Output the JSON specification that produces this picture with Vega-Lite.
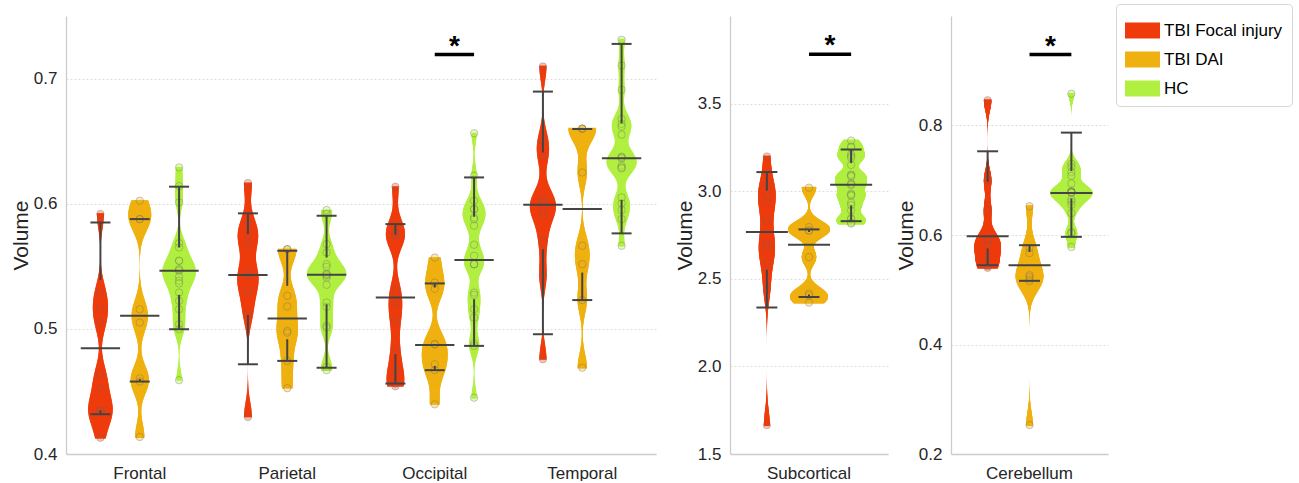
{
"$schema": "https://vega.github.io/schema/vega-lite/v6.json",
"background": "white",
"padding": {"left": 10, "top": 3, "right": 0, "bottom": 0},
"datasets": {
"pts": [
{"r":"Frontal","g":"TBI Focal injury","v":0.5918},{"r":"Frontal","g":"TBI Focal injury","v":0.529},{"r":"Frontal","g":"TBI Focal injury","v":0.517},{"r":"Frontal","g":"TBI Focal injury","v":0.505},{"r":"Frontal","g":"TBI Focal injury","v":0.4637},{"r":"Frontal","g":"TBI Focal injury","v":0.453},{"r":"Frontal","g":"TBI Focal injury","v":0.4344},{"r":"Frontal","g":"TBI Focal injury","v":0.4344},{"r":"Frontal","g":"TBI Focal injury","v":0.4344},{"r":"Frontal","g":"TBI Focal injury","v":0.413},
{"r":"Frontal","g":"TBI DAI","v":0.6024},{"r":"Frontal","g":"TBI DAI","v":0.5877},{"r":"Frontal","g":"TBI DAI","v":0.5877},{"r":"Frontal","g":"TBI DAI","v":0.5157},{"r":"Frontal","g":"TBI DAI","v":0.505},{"r":"Frontal","g":"TBI DAI","v":0.4605},{"r":"Frontal","g":"TBI DAI","v":0.458},{"r":"Frontal","g":"TBI DAI","v":0.4136},
{"r":"Frontal","g":"HC","v":0.629},{"r":"Frontal","g":"HC","v":0.614},{"r":"Frontal","g":"HC","v":0.601},{"r":"Frontal","g":"HC","v":0.5685},{"r":"Frontal","g":"HC","v":0.565},{"r":"Frontal","g":"HC","v":0.5544},{"r":"Frontal","g":"HC","v":0.5544},{"r":"Frontal","g":"HC","v":0.547},{"r":"Frontal","g":"HC","v":0.5464},{"r":"Frontal","g":"HC","v":0.5477},{"r":"Frontal","g":"HC","v":0.5416},{"r":"Frontal","g":"HC","v":0.5384},{"r":"Frontal","g":"HC","v":0.5363},{"r":"Frontal","g":"HC","v":0.529},{"r":"Frontal","g":"HC","v":0.5224},{"r":"Frontal","g":"HC","v":0.5157},{"r":"Frontal","g":"HC","v":0.5037},{"r":"Frontal","g":"HC","v":0.4997},{"r":"Frontal","g":"HC","v":0.459},
{"r":"Parietal","g":"TBI Focal injury","v":0.6166},{"r":"Parietal","g":"TBI Focal injury","v":0.5837},{"r":"Parietal","g":"TBI Focal injury","v":0.5744},{"r":"Parietal","g":"TBI Focal injury","v":0.568},{"r":"Parietal","g":"TBI Focal injury","v":0.5437},{"r":"Parietal","g":"TBI Focal injury","v":0.5424},{"r":"Parietal","g":"TBI Focal injury","v":0.53},{"r":"Parietal","g":"TBI Focal injury","v":0.5123},{"r":"Parietal","g":"TBI Focal injury","v":0.4296},
{"r":"Parietal","g":"TBI DAI","v":0.5637},{"r":"Parietal","g":"TBI DAI","v":0.5637},{"r":"Parietal","g":"TBI DAI","v":0.5264},{"r":"Parietal","g":"TBI DAI","v":0.5179},{"r":"Parietal","g":"TBI DAI","v":0.4984},{"r":"Parietal","g":"TBI DAI","v":0.497},{"r":"Parietal","g":"TBI DAI","v":0.4744},{"r":"Parietal","g":"TBI DAI","v":0.4526},
{"r":"Parietal","g":"HC","v":0.595},{"r":"Parietal","g":"HC","v":0.592},{"r":"Parietal","g":"HC","v":0.5677},{"r":"Parietal","g":"HC","v":0.561},{"r":"Parietal","g":"HC","v":0.5517},{"r":"Parietal","g":"HC","v":0.5496},{"r":"Parietal","g":"HC","v":0.5437},{"r":"Parietal","g":"HC","v":0.5424},{"r":"Parietal","g":"HC","v":0.541},{"r":"Parietal","g":"HC","v":0.543},{"r":"Parietal","g":"HC","v":0.544},{"r":"Parietal","g":"HC","v":0.5352},{"r":"Parietal","g":"HC","v":0.521},{"r":"Parietal","g":"HC","v":0.5176},{"r":"Parietal","g":"HC","v":0.5024},{"r":"Parietal","g":"HC","v":0.501},{"r":"Parietal","g":"HC","v":0.4696},{"r":"Parietal","g":"HC","v":0.467},
{"r":"Occipital","g":"TBI Focal injury","v":0.6136},{"r":"Occipital","g":"TBI Focal injury","v":0.577},{"r":"Occipital","g":"TBI Focal injury","v":0.5757},{"r":"Occipital","g":"TBI Focal injury","v":0.5744},{"r":"Occipital","g":"TBI Focal injury","v":0.531},{"r":"Occipital","g":"TBI Focal injury","v":0.5197},{"r":"Occipital","g":"TBI Focal injury","v":0.5064},{"r":"Occipital","g":"TBI Focal injury","v":0.4837},{"r":"Occipital","g":"TBI Focal injury","v":0.467},{"r":"Occipital","g":"TBI Focal injury","v":0.4563},{"r":"Occipital","g":"TBI Focal injury","v":0.4541},
{"r":"Occipital","g":"TBI DAI","v":0.557},{"r":"Occipital","g":"TBI DAI","v":0.537},{"r":"Occipital","g":"TBI DAI","v":0.532},{"r":"Occipital","g":"TBI DAI","v":0.4877},{"r":"Occipital","g":"TBI DAI","v":0.4877},{"r":"Occipital","g":"TBI DAI","v":0.4717},{"r":"Occipital","g":"TBI DAI","v":0.467},{"r":"Occipital","g":"TBI DAI","v":0.4397},
{"r":"Occipital","g":"HC","v":0.6563},{"r":"Occipital","g":"HC","v":0.6224},{"r":"Occipital","g":"HC","v":0.6024},{"r":"Occipital","g":"HC","v":0.5957},{"r":"Occipital","g":"HC","v":0.5957},{"r":"Occipital","g":"HC","v":0.589},{"r":"Occipital","g":"HC","v":0.5877},{"r":"Occipital","g":"HC","v":0.5824},{"r":"Occipital","g":"HC","v":0.5672},{"r":"Occipital","g":"HC","v":0.5584},{"r":"Occipital","g":"HC","v":0.5517},{"r":"Occipital","g":"HC","v":0.5517},{"r":"Occipital","g":"HC","v":0.5517},{"r":"Occipital","g":"HC","v":0.529},{"r":"Occipital","g":"HC","v":0.5272},{"r":"Occipital","g":"HC","v":0.5157},{"r":"Occipital","g":"HC","v":0.509},{"r":"Occipital","g":"HC","v":0.4883},{"r":"Occipital","g":"HC","v":0.4864},{"r":"Occipital","g":"HC","v":0.445},
{"r":"Temporal","g":"TBI Focal injury","v":0.7096},{"r":"Temporal","g":"TBI Focal injury","v":0.65},{"r":"Temporal","g":"TBI Focal injury","v":0.638},{"r":"Temporal","g":"TBI Focal injury","v":0.6037},{"r":"Temporal","g":"TBI Focal injury","v":0.601},{"r":"Temporal","g":"TBI Focal injury","v":0.597},{"r":"Temporal","g":"TBI Focal injury","v":0.5904},{"r":"Temporal","g":"TBI Focal injury","v":0.5704},{"r":"Temporal","g":"TBI Focal injury","v":0.5424},{"r":"Temporal","g":"TBI Focal injury","v":0.4757},
{"r":"Temporal","g":"TBI DAI","v":0.66},{"r":"Temporal","g":"TBI DAI","v":0.66},{"r":"Temporal","g":"TBI DAI","v":0.66},{"r":"Temporal","g":"TBI DAI","v":0.625},{"r":"Temporal","g":"TBI DAI","v":0.5664},{"r":"Temporal","g":"TBI DAI","v":0.5517},{"r":"Temporal","g":"TBI DAI","v":0.523},{"r":"Temporal","g":"TBI DAI","v":0.469},
{"r":"Temporal","g":"HC","v":0.731},{"r":"Temporal","g":"HC","v":0.7104},{"r":"Temporal","g":"HC","v":0.691},{"r":"Temporal","g":"HC","v":0.6677},{"r":"Temporal","g":"HC","v":0.6637},{"r":"Temporal","g":"HC","v":0.6616},{"r":"Temporal","g":"HC","v":0.6552},{"r":"Temporal","g":"HC","v":0.6376},{"r":"Temporal","g":"HC","v":0.637},{"r":"Temporal","g":"HC","v":0.6363},{"r":"Temporal","g":"HC","v":0.6304},{"r":"Temporal","g":"HC","v":0.629},{"r":"Temporal","g":"HC","v":0.6283},{"r":"Temporal","g":"HC","v":0.605},{"r":"Temporal","g":"HC","v":0.6003},{"r":"Temporal","g":"HC","v":0.595},{"r":"Temporal","g":"HC","v":0.5877},{"r":"Temporal","g":"HC","v":0.5664},
{"r":"Subcortical","g":"TBI Focal injury","v":3.198},{"r":"Subcortical","g":"TBI Focal injury","v":3.033},{"r":"Subcortical","g":"TBI Focal injury","v":2.985},{"r":"Subcortical","g":"TBI Focal injury","v":2.942},{"r":"Subcortical","g":"TBI Focal injury","v":2.833},{"r":"Subcortical","g":"TBI Focal injury","v":2.7},{"r":"Subcortical","g":"TBI Focal injury","v":2.681},{"r":"Subcortical","g":"TBI Focal injury","v":2.59},{"r":"Subcortical","g":"TBI Focal injury","v":2.44},{"r":"Subcortical","g":"TBI Focal injury","v":1.665},
{"r":"Subcortical","g":"TBI DAI","v":3.02},{"r":"Subcortical","g":"TBI DAI","v":2.795},{"r":"Subcortical","g":"TBI DAI","v":2.776},{"r":"Subcortical","g":"TBI DAI","v":2.776},{"r":"Subcortical","g":"TBI DAI","v":2.624},{"r":"Subcortical","g":"TBI DAI","v":2.416},{"r":"Subcortical","g":"TBI DAI","v":2.406},{"r":"Subcortical","g":"TBI DAI","v":2.364},
{"r":"Subcortical","g":"HC","v":3.289},{"r":"Subcortical","g":"HC","v":3.255},{"r":"Subcortical","g":"HC","v":3.25},{"r":"Subcortical","g":"HC","v":3.21},{"r":"Subcortical","g":"HC","v":3.2},{"r":"Subcortical","g":"HC","v":3.19},{"r":"Subcortical","g":"HC","v":3.15},{"r":"Subcortical","g":"HC","v":3.095},{"r":"Subcortical","g":"HC","v":3.09},{"r":"Subcortical","g":"HC","v":3.085},{"r":"Subcortical","g":"HC","v":3.045},{"r":"Subcortical","g":"HC","v":3.04},{"r":"Subcortical","g":"HC","v":3.035},{"r":"Subcortical","g":"HC","v":2.985},{"r":"Subcortical","g":"HC","v":2.98},{"r":"Subcortical","g":"HC","v":2.975},{"r":"Subcortical","g":"HC","v":2.935},{"r":"Subcortical","g":"HC","v":2.92},{"r":"Subcortical","g":"HC","v":2.89},{"r":"Subcortical","g":"HC","v":2.845},{"r":"Subcortical","g":"HC","v":2.84},{"r":"Subcortical","g":"HC","v":2.82},{"r":"Subcortical","g":"HC","v":2.815},
{"r":"Cerebellum","g":"TBI Focal injury","v":0.846},{"r":"Cerebellum","g":"TBI Focal injury","v":0.7},{"r":"Cerebellum","g":"TBI Focal injury","v":0.645},{"r":"Cerebellum","g":"TBI Focal injury","v":0.59},{"r":"Cerebellum","g":"TBI Focal injury","v":0.59},{"r":"Cerebellum","g":"TBI Focal injury","v":0.581},{"r":"Cerebellum","g":"TBI Focal injury","v":0.56},{"r":"Cerebellum","g":"TBI Focal injury","v":0.543},{"r":"Cerebellum","g":"TBI Focal injury","v":0.54},
{"r":"Cerebellum","g":"TBI DAI","v":0.6526},{"r":"Cerebellum","g":"TBI DAI","v":0.576},{"r":"Cerebellum","g":"TBI DAI","v":0.567},{"r":"Cerebellum","g":"TBI DAI","v":0.5267},{"r":"Cerebellum","g":"TBI DAI","v":0.5236},{"r":"Cerebellum","g":"TBI DAI","v":0.519},{"r":"Cerebellum","g":"TBI DAI","v":0.5157},{"r":"Cerebellum","g":"TBI DAI","v":0.2529},
{"r":"Cerebellum","g":"HC","v":0.858},{"r":"Cerebellum","g":"HC","v":0.73},{"r":"Cerebellum","g":"HC","v":0.724},{"r":"Cerebellum","g":"HC","v":0.715},{"r":"Cerebellum","g":"HC","v":0.708},{"r":"Cerebellum","g":"HC","v":0.694},{"r":"Cerebellum","g":"HC","v":0.68},{"r":"Cerebellum","g":"HC","v":0.679},{"r":"Cerebellum","g":"HC","v":0.679},{"r":"Cerebellum","g":"HC","v":0.678},{"r":"Cerebellum","g":"HC","v":0.678},{"r":"Cerebellum","g":"HC","v":0.677},{"r":"Cerebellum","g":"HC","v":0.665},{"r":"Cerebellum","g":"HC","v":0.661},{"r":"Cerebellum","g":"HC","v":0.655},{"r":"Cerebellum","g":"HC","v":0.64},{"r":"Cerebellum","g":"HC","v":0.605},{"r":"Cerebellum","g":"HC","v":0.603},{"r":"Cerebellum","g":"HC","v":0.578}
],
"stats": [
{"r":"Frontal","g":"TBI Focal injury","mid":0.4845,"hi":0.585,"q3":0.539,"q1":0.435,"lo":0.4318},
{"r":"Frontal","g":"TBI DAI","mid":0.5104,"hi":0.5877,"q3":0.5877,"q1":0.46,"lo":0.4579},
{"r":"Frontal","g":"HC","mid":0.5464,"hi":0.6136,"q3":0.565,"q1":0.5272,"lo":0.4997},
{"r":"Parietal","g":"TBI Focal injury","mid":0.543,"hi":0.5923,"q3":0.5757,"q1":0.5112,"lo":0.4717},
{"r":"Parietal","g":"TBI DAI","mid":0.5083,"hi":0.5624,"q3":0.5344,"q1":0.4917,"lo":0.4744},
{"r":"Parietal","g":"HC","mid":0.5432,"hi":0.5904,"q3":0.557,"q1":0.5197,"lo":0.469},
{"r":"Occipital","g":"TBI Focal injury","mid":0.525,"hi":0.5837,"q3":0.5752,"q1":0.4797,"lo":0.4563},
{"r":"Occipital","g":"TBI DAI","mid":0.4872,"hi":0.5363,"q3":0.533,"q1":0.4704,"lo":0.467},
{"r":"Occipital","g":"HC","mid":0.555,"hi":0.621,"q3":0.5896,"q1":0.5237,"lo":0.4864},
{"r":"Temporal","g":"TBI Focal injury","mid":0.5992,"hi":0.6896,"q3":0.641,"q1":0.5637,"lo":0.4957},
{"r":"Temporal","g":"TBI DAI","mid":0.5957,"hi":0.6597,"q3":0.6597,"q1":0.545,"lo":0.523},
{"r":"Temporal","g":"HC","mid":0.6363,"hi":0.7277,"q3":0.6642,"q1":0.603,"lo":0.5763},
{"r":"Subcortical","g":"TBI Focal injury","mid":2.767,"hi":3.109,"q3":3.004,"q1":2.552,"lo":2.336},
{"r":"Subcortical","g":"TBI DAI","mid":2.695,"hi":2.782,"q3":2.767,"q1":2.41,"lo":2.396},
{"r":"Subcortical","g":"HC","mid":3.037,"hi":3.238,"q3":3.16,"q1":2.919,"lo":2.829},
{"r":"Cerebellum","g":"TBI Focal injury","mid":0.5978,"hi":0.7529,"q3":0.697,"q1":0.5754,"lo":0.5449},
{"r":"Cerebellum","g":"TBI DAI","mid":0.5449,"hi":0.5814,"q3":0.5692,"q1":0.5163,"lo":0.5163},
{"r":"Cerebellum","g":"HC","mid":0.6768,"hi":0.787,"q3":0.717,"q1":0.6666,"lo":0.5966}
],
"sig": [
{"r":"Occipital","g":"TBI DAI"},{"r":"Occipital","g":"HC"},
{"r":"Subcortical","g":"TBI DAI"},{"r":"Subcortical","g":"HC"},
{"r":"Cerebellum","g":"TBI DAI"},{"r":"Cerebellum","g":"HC"}
]
},
"config": {
"font": "Liberation Sans",
"view": {"stroke": null},
"axis": {"labelFontSize": 17, "labelColor": "#262626", "titleFontSize": 21, "titleFontWeight": "normal", "titleColor": "#262626", "ticks": false, "domainColor": "#cccccc", "domainWidth": 1.3, "gridColor": "#dedede", "gridDash": [2, 2], "labelPadding": 9, "titlePadding": 2},
"axisX": {"grid": false, "labelAngle": 0, "labelPadding": 11},
"axisY": {"grid": true},
"tick": {"opacity": 1}
},
"spacing": 74,
"bounds": "flush",
"resolve": {"scale": {"size": "independent", "xOffset": "independent", "x": "independent", "y": "independent"}},
"hconcat": [
{
"width": 590, "height": 438,
"layer": [
{"data": {"name": "pts"}, "transform": [{"filter": {"field": "r", "oneOf": ["Frontal","Parietal","Occipital","Temporal"]}}, {"filter": {"field": "g", "equal": "TBI Focal injury"}}, {"joinaggregate": [{"op": "min", "field": "v", "as": "vmin"}, {"op": "max", "field": "v", "as": "vmax"}], "groupby": ["r","g"]}, {"density": "v", "groupby": ["r","g","vmin","vmax"], "bandwidth": 0.0115, "steps": 400, "as": ["v","density"]}, {"filter": "datum.v >= datum.vmin && datum.v <= datum.vmax"}],
 "mark": {"type": "tick", "thickness": 2, "opacity": 1},
 "encoding": {
  "x": {"field": "r", "type": "nominal", "title": null, "scale": {"domain": ["Frontal","Parietal","Occipital","Temporal"], "paddingInner": 0, "paddingOuter": 0}},
  "xOffset": {"field": "g", "type": "nominal", "scale": {"domain": ["TBI Focal injury","TBI DAI","HC"], "paddingInner": 0, "paddingOuter": 0.375}},
  "y": {"field": "v", "type": "quantitative", "title": "Volume", "scale": {"domain": [0.4, 0.75], "nice": false, "zero": false}, "axis": {"values": [0.4, 0.5, 0.6, 0.7], "format": ".1f"}},
  "size": {"field": "density", "type": "quantitative", "scale": {"range": [0, 39.3]}, "legend": null},
  "color": {"field": "g", "type": "nominal", "scale": {"domain": ["TBI Focal injury","TBI DAI","HC"], "range": ["#ef3b0c","#efb110","#b1ef40"]},
   "legend": {"orient": "none", "legendX": 1050, "legendY": -12, "title": null, "symbolType": "M-1,-0.457L1,-0.457L1,0.457L-1,0.457Z", "symbolSize": 1225, "symbolStrokeWidth": 0, "symbolOpacity": 1, "labelFontSize": 17, "labelColor": "black", "labelOffset": 4, "strokeColor": "#d6d6d6", "fillColor": "white", "cornerRadius": 4, "padding": 9, "rowPadding": 3, "encode": {"symbols": {"update": {"fill": {"signal": "datum.value === 'TBI Focal injury' ? '#ff2200' : datum.value === 'TBI DAI' ? '#ffb000' : '#aaff44'"}}}}}}
 }},
{"data": {"name": "pts"}, "transform": [{"filter": {"field": "r", "oneOf": ["Frontal","Parietal","Occipital","Temporal"]}}, {"filter": {"field": "g", "equal": "TBI DAI"}}, {"joinaggregate": [{"op": "min", "field": "v", "as": "vmin"}, {"op": "max", "field": "v", "as": "vmax"}], "groupby": ["r","g"]}, {"density": "v", "groupby": ["r","g","vmin","vmax"], "bandwidth": 0.011, "steps": 400, "as": ["v","density"]}, {"filter": "datum.v >= datum.vmin && datum.v <= datum.vmax"}],
 "mark": {"type": "tick", "thickness": 2, "opacity": 1},
 "encoding": {
  "x": {"field": "r", "type": "nominal", "title": null},
  "xOffset": {"field": "g", "type": "nominal"},
  "y": {"field": "v", "type": "quantitative", "title": "Volume"},
  "size": {"field": "density", "type": "quantitative", "legend": null},
  "color": {"field": "g", "type": "nominal",
   "legend": {"orient": "none", "legendX": 1050, "legendY": -12, "title": null, "symbolType": "M-1,-0.457L1,-0.457L1,0.457L-1,0.457Z", "symbolSize": 1225, "symbolStrokeWidth": 0, "symbolOpacity": 1, "labelFontSize": 17, "labelColor": "black", "labelOffset": 4, "strokeColor": "#d6d6d6", "fillColor": "white", "cornerRadius": 4, "padding": 9, "rowPadding": 3, "encode": {"symbols": {"update": {"fill": {"signal": "datum.value === 'TBI Focal injury' ? '#ff2200' : datum.value === 'TBI DAI' ? '#ffb000' : '#aaff44'"}}}}}}
 }},
{"data": {"name": "pts"}, "transform": [{"filter": {"field": "r", "oneOf": ["Frontal","Parietal","Occipital","Temporal"]}}, {"filter": {"field": "g", "equal": "HC"}}, {"joinaggregate": [{"op": "min", "field": "v", "as": "vmin"}, {"op": "max", "field": "v", "as": "vmax"}], "groupby": ["r","g"]}, {"density": "v", "groupby": ["r","g","vmin","vmax"], "bandwidth": 0.008, "steps": 400, "as": ["v","density"]}, {"filter": "datum.v >= datum.vmin && datum.v <= datum.vmax"}],
 "mark": {"type": "tick", "thickness": 2, "opacity": 1},
 "encoding": {
  "x": {"field": "r", "type": "nominal", "title": null},
  "xOffset": {"field": "g", "type": "nominal"},
  "y": {"field": "v", "type": "quantitative", "title": "Volume"},
  "size": {"field": "density", "type": "quantitative", "legend": null},
  "color": {"field": "g", "type": "nominal",
   "legend": {"orient": "none", "legendX": 1050, "legendY": -12, "title": null, "symbolType": "M-1,-0.457L1,-0.457L1,0.457L-1,0.457Z", "symbolSize": 1225, "symbolStrokeWidth": 0, "symbolOpacity": 1, "labelFontSize": 17, "labelColor": "black", "labelOffset": 4, "strokeColor": "#d6d6d6", "fillColor": "white", "cornerRadius": 4, "padding": 9, "rowPadding": 3, "encode": {"symbols": {"update": {"fill": {"signal": "datum.value === 'TBI Focal injury' ? '#ff2200' : datum.value === 'TBI DAI' ? '#ffb000' : '#aaff44'"}}}}}}
 }},
{"data": {"name": "pts"}, "transform": [{"filter": {"field": "r", "oneOf": ["Frontal","Parietal","Occipital","Temporal"]}}],
 "mark": {"type": "circle", "size": 55, "fillOpacity": 0.3, "stroke": "#666666", "strokeOpacity": 0.35, "strokeWidth": 1, "opacity": 1},
 "encoding": {"x": {"field": "r", "type": "nominal", "title": null}, "xOffset": {"field": "g", "type": "nominal"}, "y": {"field": "v", "type": "quantitative", "title": "Volume"}, "color": {"field": "g", "type": "nominal", "legend": null}}},
{"data": {"name": "stats"}, "transform": [{"filter": {"field": "r", "oneOf": ["Frontal","Parietal","Occipital","Temporal"]}}],
 "mark": {"type": "rule", "color": "#444444", "strokeWidth": 2},
 "encoding": {"x": {"field": "r", "type": "nominal", "title": null}, "xOffset": {"field": "g", "type": "nominal"}, "y": {"field": "q3", "type": "quantitative", "title": "Volume"}, "y2": {"field": "hi"}}},
{"data": {"name": "stats"}, "transform": [{"filter": {"field": "r", "oneOf": ["Frontal","Parietal","Occipital","Temporal"]}}],
 "mark": {"type": "rule", "color": "#444444", "strokeWidth": 2},
 "encoding": {"x": {"field": "r", "type": "nominal", "title": null}, "xOffset": {"field": "g", "type": "nominal"}, "y": {"field": "lo", "type": "quantitative", "title": "Volume"}, "y2": {"field": "q1"}}},
{"data": {"name": "stats"}, "transform": [{"filter": {"field": "r", "oneOf": ["Frontal","Parietal","Occipital","Temporal"]}}],
 "mark": {"type": "tick", "color": "#444444", "thickness": 2, "opacity": 1},
 "encoding": {"x": {"field": "r", "type": "nominal", "title": null}, "xOffset": {"field": "g", "type": "nominal"}, "y": {"field": "hi", "type": "quantitative", "title": "Volume"}, "size": {"value": 20}}},
{"data": {"name": "stats"}, "transform": [{"filter": {"field": "r", "oneOf": ["Frontal","Parietal","Occipital","Temporal"]}}],
 "mark": {"type": "tick", "color": "#444444", "thickness": 2, "opacity": 1},
 "encoding": {"x": {"field": "r", "type": "nominal", "title": null}, "xOffset": {"field": "g", "type": "nominal"}, "y": {"field": "lo", "type": "quantitative", "title": "Volume"}, "size": {"value": 20}}},
{"data": {"name": "stats"}, "transform": [{"filter": {"field": "r", "oneOf": ["Frontal","Parietal","Occipital","Temporal"]}}],
 "mark": {"type": "tick", "color": "#444444", "thickness": 2, "opacity": 1},
 "encoding": {"x": {"field": "r", "type": "nominal", "title": null}, "xOffset": {"field": "g", "type": "nominal"}, "y": {"field": "mid", "type": "quantitative", "title": "Volume"}, "size": {"value": 39.3}}},
{"data": {"name": "sig"}, "transform": [{"filter": {"field": "r", "oneOf": ["Frontal","Parietal","Occipital","Temporal"]}}],
 "mark": {"type": "line", "color": "black", "strokeWidth": 3.5},
 "encoding": {"x": {"field": "r", "type": "nominal", "title": null}, "xOffset": {"field": "g", "type": "nominal"}, "y": {"datum": 0.7192, "type": "quantitative", "title": "Volume"}, "detail": {"field": "r"}}},
{"data": {"name": "sig"}, "transform": [{"filter": {"field": "r", "oneOf": ["Frontal","Parietal","Occipital","Temporal"]}}, {"filter": {"field": "g", "equal": "TBI DAI"}}],
 "mark": {"type": "text", "text": "*", "fontSize": 28, "fontWeight": "bold", "color": "black", "dx": 19.7, "dy": 0, "baseline": "alphabetic", "align": "center"},
 "encoding": {"x": {"field": "r", "type": "nominal", "title": null}, "xOffset": {"field": "g", "type": "nominal"}, "y": {"datum": 0.7192, "type": "quantitative", "title": "Volume"}}}
]
},
{
"spacing": 63,
"bounds": "flush",
"resolve": {"scale": {"size": "independent", "xOffset": "independent", "x": "independent", "y": "independent"}},
"hconcat": [
{
"width": 158, "height": 438,
"layer": [
{"data": {"name": "pts"}, "transform": [{"filter": {"field": "r", "equal": "Subcortical"}}, {"filter": {"field": "g", "equal": "TBI Focal injury"}}, {"joinaggregate": [{"op": "min", "field": "v", "as": "vmin"}, {"op": "max", "field": "v", "as": "vmax"}], "groupby": ["r","g"]}, {"density": "v", "groupby": ["r","g","vmin","vmax"], "bandwidth": 0.086, "steps": 400, "as": ["v","density"]}, {"filter": "datum.v >= datum.vmin && datum.v <= datum.vmax"}],
 "mark": {"type": "tick", "thickness": 2, "opacity": 1},
 "encoding": {
  "x": {"field": "r", "type": "nominal", "title": null, "scale": {"paddingInner": 0, "paddingOuter": 0}},
  "xOffset": {"field": "g", "type": "nominal", "scale": {"domain": ["TBI Focal injury","TBI DAI","HC"], "paddingInner": 0, "paddingOuter": 0.375}},
  "y": {"field": "v", "type": "quantitative", "title": "Volume", "scale": {"domain": [1.5, 4.0], "nice": false, "zero": false}, "axis": {"values": [1.5, 2.0, 2.5, 3.0, 3.5], "format": ".1f"}},
  "size": {"field": "density", "type": "quantitative", "scale": {"range": [0, 42]}, "legend": null},
  "color": {"field": "g", "type": "nominal", "legend": null}
 }},
{"data": {"name": "pts"}, "transform": [{"filter": {"field": "r", "equal": "Subcortical"}}, {"filter": {"field": "g", "equal": "TBI DAI"}}, {"joinaggregate": [{"op": "min", "field": "v", "as": "vmin"}, {"op": "max", "field": "v", "as": "vmax"}], "groupby": ["r","g"]}, {"density": "v", "groupby": ["r","g","vmin","vmax"], "bandwidth": 0.044, "steps": 400, "as": ["v","density"]}, {"filter": "datum.v >= datum.vmin && datum.v <= datum.vmax"}],
 "mark": {"type": "tick", "thickness": 2, "opacity": 1},
 "encoding": {"x": {"field": "r", "type": "nominal", "title": null}, "xOffset": {"field": "g", "type": "nominal"}, "y": {"field": "v", "type": "quantitative", "title": "Volume"}, "size": {"field": "density", "type": "quantitative", "legend": null}, "color": {"field": "g", "type": "nominal", "legend": null}}},
{"data": {"name": "pts"}, "transform": [{"filter": {"field": "r", "equal": "Subcortical"}}, {"filter": {"field": "g", "equal": "HC"}}, {"joinaggregate": [{"op": "min", "field": "v", "as": "vmin"}, {"op": "max", "field": "v", "as": "vmax"}], "groupby": ["r","g"]}, {"density": "v", "groupby": ["r","g","vmin","vmax"], "bandwidth": 0.028, "steps": 400, "as": ["v","density"]}, {"filter": "datum.v >= datum.vmin && datum.v <= datum.vmax"}],
 "mark": {"type": "tick", "thickness": 2, "opacity": 1},
 "encoding": {"x": {"field": "r", "type": "nominal", "title": null}, "xOffset": {"field": "g", "type": "nominal"}, "y": {"field": "v", "type": "quantitative", "title": "Volume"}, "size": {"field": "density", "type": "quantitative", "legend": null}, "color": {"field": "g", "type": "nominal", "legend": null}}},
{"data": {"name": "pts"}, "transform": [{"filter": {"field": "r", "equal": "Subcortical"}}],
 "mark": {"type": "circle", "size": 55, "fillOpacity": 0.3, "stroke": "#666666", "strokeOpacity": 0.35, "strokeWidth": 1, "opacity": 1},
 "encoding": {"x": {"field": "r", "type": "nominal", "title": null}, "xOffset": {"field": "g", "type": "nominal"}, "y": {"field": "v", "type": "quantitative", "title": "Volume"}, "color": {"field": "g", "type": "nominal", "legend": null}}},
{"data": {"name": "stats"}, "transform": [{"filter": {"field": "r", "equal": "Subcortical"}}],
 "mark": {"type": "rule", "color": "#444444", "strokeWidth": 2},
 "encoding": {"x": {"field": "r", "type": "nominal", "title": null}, "xOffset": {"field": "g", "type": "nominal"}, "y": {"field": "q3", "type": "quantitative", "title": "Volume"}, "y2": {"field": "hi"}}},
{"data": {"name": "stats"}, "transform": [{"filter": {"field": "r", "equal": "Subcortical"}}],
 "mark": {"type": "rule", "color": "#444444", "strokeWidth": 2},
 "encoding": {"x": {"field": "r", "type": "nominal", "title": null}, "xOffset": {"field": "g", "type": "nominal"}, "y": {"field": "lo", "type": "quantitative", "title": "Volume"}, "y2": {"field": "q1"}}},
{"data": {"name": "stats"}, "transform": [{"filter": {"field": "r", "equal": "Subcortical"}}],
 "mark": {"type": "tick", "color": "#444444", "thickness": 2, "opacity": 1},
 "encoding": {"x": {"field": "r", "type": "nominal", "title": null}, "xOffset": {"field": "g", "type": "nominal"}, "y": {"field": "hi", "type": "quantitative", "title": "Volume"}, "size": {"value": 21}}},
{"data": {"name": "stats"}, "transform": [{"filter": {"field": "r", "equal": "Subcortical"}}],
 "mark": {"type": "tick", "color": "#444444", "thickness": 2, "opacity": 1},
 "encoding": {"x": {"field": "r", "type": "nominal", "title": null}, "xOffset": {"field": "g", "type": "nominal"}, "y": {"field": "lo", "type": "quantitative", "title": "Volume"}, "size": {"value": 21}}},
{"data": {"name": "stats"}, "transform": [{"filter": {"field": "r", "equal": "Subcortical"}}],
 "mark": {"type": "tick", "color": "#444444", "thickness": 2, "opacity": 1},
 "encoding": {"x": {"field": "r", "type": "nominal", "title": null}, "xOffset": {"field": "g", "type": "nominal"}, "y": {"field": "mid", "type": "quantitative", "title": "Volume"}, "size": {"value": 42}}},
{"data": {"name": "sig"}, "transform": [{"filter": {"field": "r", "equal": "Subcortical"}}],
 "mark": {"type": "line", "color": "black", "strokeWidth": 3.5},
 "encoding": {"x": {"field": "r", "type": "nominal", "title": null}, "xOffset": {"field": "g", "type": "nominal"}, "y": {"datum": 3.781, "type": "quantitative", "title": "Volume"}, "detail": {"field": "r"}}},
{"data": {"name": "sig"}, "transform": [{"filter": {"field": "r", "equal": "Subcortical"}}, {"filter": {"field": "g", "equal": "TBI DAI"}}],
 "mark": {"type": "text", "text": "*", "fontSize": 28, "fontWeight": "bold", "color": "black", "dx": 21, "dy": 0, "baseline": "alphabetic", "align": "center"},
 "encoding": {"x": {"field": "r", "type": "nominal", "title": null}, "xOffset": {"field": "g", "type": "nominal"}, "y": {"datum": 3.781, "type": "quantitative", "title": "Volume"}}}
]
},
{
"width": 157, "height": 438,
"layer": [
{"data": {"name": "pts"}, "transform": [{"filter": {"field": "r", "equal": "Cerebellum"}}, {"filter": {"field": "g", "equal": "TBI Focal injury"}}, {"joinaggregate": [{"op": "min", "field": "v", "as": "vmin"}, {"op": "max", "field": "v", "as": "vmax"}], "groupby": ["r","g"]}, {"density": "v", "groupby": ["r","g","vmin","vmax"], "bandwidth": 0.019, "steps": 400, "as": ["v","density"]}, {"filter": "datum.v >= datum.vmin && datum.v <= datum.vmax"}],
 "mark": {"type": "tick", "thickness": 2, "opacity": 1},
 "encoding": {
  "x": {"field": "r", "type": "nominal", "title": null, "scale": {"paddingInner": 0, "paddingOuter": 0}},
  "xOffset": {"field": "g", "type": "nominal", "scale": {"domain": ["TBI Focal injury","TBI DAI","HC"], "paddingInner": 0, "paddingOuter": 0.375}},
  "y": {"field": "v", "type": "quantitative", "title": "Volume", "scale": {"domain": [0.2, 1.0], "nice": false, "zero": false}, "axis": {"values": [0.2, 0.4, 0.6, 0.8], "format": ".1f"}},
  "size": {"field": "density", "type": "quantitative", "scale": {"range": [0, 42]}, "legend": null},
  "color": {"field": "g", "type": "nominal", "legend": null}
 }},
{"data": {"name": "pts"}, "transform": [{"filter": {"field": "r", "equal": "Cerebellum"}}, {"filter": {"field": "g", "equal": "TBI DAI"}}, {"joinaggregate": [{"op": "min", "field": "v", "as": "vmin"}, {"op": "max", "field": "v", "as": "vmax"}], "groupby": ["r","g"]}, {"density": "v", "groupby": ["r","g","vmin","vmax"], "bandwidth": 0.024, "steps": 400, "as": ["v","density"]}, {"filter": "datum.v >= datum.vmin && datum.v <= datum.vmax"}],
 "mark": {"type": "tick", "thickness": 2, "opacity": 1},
 "encoding": {"x": {"field": "r", "type": "nominal", "title": null}, "xOffset": {"field": "g", "type": "nominal"}, "y": {"field": "v", "type": "quantitative", "title": "Volume"}, "size": {"field": "density", "type": "quantitative", "legend": null}, "color": {"field": "g", "type": "nominal", "legend": null}}},
{"data": {"name": "pts"}, "transform": [{"filter": {"field": "r", "equal": "Cerebellum"}}, {"filter": {"field": "g", "equal": "HC"}}, {"joinaggregate": [{"op": "min", "field": "v", "as": "vmin"}, {"op": "max", "field": "v", "as": "vmax"}], "groupby": ["r","g"]}, {"density": "v", "groupby": ["r","g","vmin","vmax"], "bandwidth": 0.012, "steps": 400, "as": ["v","density"]}, {"filter": "datum.v >= datum.vmin && datum.v <= datum.vmax"}],
 "mark": {"type": "tick", "thickness": 2, "opacity": 1},
 "encoding": {"x": {"field": "r", "type": "nominal", "title": null}, "xOffset": {"field": "g", "type": "nominal"}, "y": {"field": "v", "type": "quantitative", "title": "Volume"}, "size": {"field": "density", "type": "quantitative", "legend": null}, "color": {"field": "g", "type": "nominal", "legend": null}}},
{"data": {"name": "pts"}, "transform": [{"filter": {"field": "r", "equal": "Cerebellum"}}],
 "mark": {"type": "circle", "size": 55, "fillOpacity": 0.3, "stroke": "#666666", "strokeOpacity": 0.35, "strokeWidth": 1, "opacity": 1},
 "encoding": {"x": {"field": "r", "type": "nominal", "title": null}, "xOffset": {"field": "g", "type": "nominal"}, "y": {"field": "v", "type": "quantitative", "title": "Volume"}, "color": {"field": "g", "type": "nominal", "legend": null}}},
{"data": {"name": "stats"}, "transform": [{"filter": {"field": "r", "equal": "Cerebellum"}}],
 "mark": {"type": "rule", "color": "#444444", "strokeWidth": 2},
 "encoding": {"x": {"field": "r", "type": "nominal", "title": null}, "xOffset": {"field": "g", "type": "nominal"}, "y": {"field": "q3", "type": "quantitative", "title": "Volume"}, "y2": {"field": "hi"}}},
{"data": {"name": "stats"}, "transform": [{"filter": {"field": "r", "equal": "Cerebellum"}}],
 "mark": {"type": "rule", "color": "#444444", "strokeWidth": 2},
 "encoding": {"x": {"field": "r", "type": "nominal", "title": null}, "xOffset": {"field": "g", "type": "nominal"}, "y": {"field": "lo", "type": "quantitative", "title": "Volume"}, "y2": {"field": "q1"}}},
{"data": {"name": "stats"}, "transform": [{"filter": {"field": "r", "equal": "Cerebellum"}}],
 "mark": {"type": "tick", "color": "#444444", "thickness": 2, "opacity": 1},
 "encoding": {"x": {"field": "r", "type": "nominal", "title": null}, "xOffset": {"field": "g", "type": "nominal"}, "y": {"field": "hi", "type": "quantitative", "title": "Volume"}, "size": {"value": 21}}},
{"data": {"name": "stats"}, "transform": [{"filter": {"field": "r", "equal": "Cerebellum"}}],
 "mark": {"type": "tick", "color": "#444444", "thickness": 2, "opacity": 1},
 "encoding": {"x": {"field": "r", "type": "nominal", "title": null}, "xOffset": {"field": "g", "type": "nominal"}, "y": {"field": "lo", "type": "quantitative", "title": "Volume"}, "size": {"value": 21}}},
{"data": {"name": "stats"}, "transform": [{"filter": {"field": "r", "equal": "Cerebellum"}}],
 "mark": {"type": "tick", "color": "#444444", "thickness": 2, "opacity": 1},
 "encoding": {"x": {"field": "r", "type": "nominal", "title": null}, "xOffset": {"field": "g", "type": "nominal"}, "y": {"field": "mid", "type": "quantitative", "title": "Volume"}, "size": {"value": 42}}},
{"data": {"name": "sig"}, "transform": [{"filter": {"field": "r", "equal": "Cerebellum"}}],
 "mark": {"type": "line", "color": "black", "strokeWidth": 3.5},
 "encoding": {"x": {"field": "r", "type": "nominal", "title": null}, "xOffset": {"field": "g", "type": "nominal"}, "y": {"datum": 0.9295, "type": "quantitative", "title": "Volume"}, "detail": {"field": "r"}}},
{"data": {"name": "sig"}, "transform": [{"filter": {"field": "r", "equal": "Cerebellum"}}, {"filter": {"field": "g", "equal": "TBI DAI"}}],
 "mark": {"type": "text", "text": "*", "fontSize": 28, "fontWeight": "bold", "color": "black", "dx": 21, "dy": 0, "baseline": "alphabetic", "align": "center"},
 "encoding": {"x": {"field": "r", "type": "nominal", "title": null}, "xOffset": {"field": "g", "type": "nominal"}, "y": {"datum": 0.9295, "type": "quantitative", "title": "Volume"}}}
]
}
]
}
]
}
